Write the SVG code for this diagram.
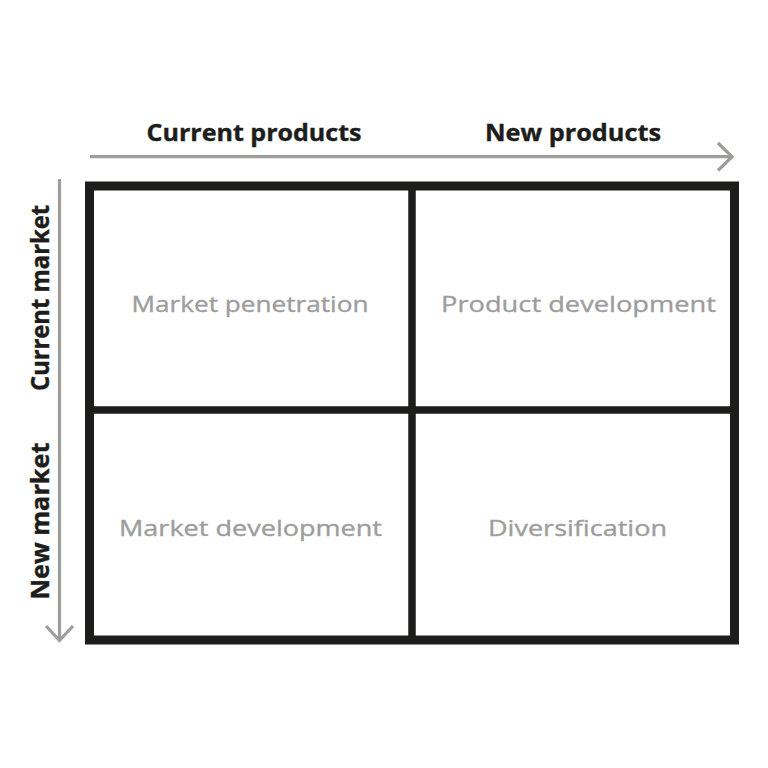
<svg xmlns="http://www.w3.org/2000/svg" width="768" height="768" viewBox="0 0 768 768">
<style>
.axis{font-family:"Open Sans","Liberation Sans",sans-serif;font-weight:700;font-size:24px;fill:#1d1d1b;stroke:#1d1d1b;stroke-width:0.4}
.vaxis{font-size:25px}
.cell{font-family:"Open Sans","Liberation Sans",sans-serif;font-weight:400;font-size:21.5px;fill:#9d9d9c;stroke:#9d9d9c;stroke-width:0.35}
.arr{stroke:#9d9d9c;stroke-width:3.2;fill:none;stroke-linecap:butt}
.grid{stroke:#1d1d1b;fill:none}
</style>
<rect width="768" height="768" fill="#ffffff"/>
<g id="connectors">
<line class="arr" x1="90" y1="156.7" x2="732" y2="156.7"/>
<polyline class="arr" points="718,143 732,156.7 718,170.5"/>
<line class="arr" x1="59.5" y1="179" x2="59.5" y2="641"/>
<polyline class="arr" points="46,626 59.5,640.5 73,626"/>
</g>
<g id="grid">
<rect class="grid" x="89.5" y="186" width="645" height="454" stroke-width="9"/>
<line class="grid" x1="412" y1="186" x2="412" y2="640" stroke-width="7.5"/>
<line class="grid" x1="89.5" y1="410" x2="734.5" y2="410" stroke-width="7.5"/>
</g>
<g id="label-current-products"><text class="axis" x="254" y="141" text-anchor="middle" textLength="215" lengthAdjust="spacingAndGlyphs">Current products</text></g>
<g id="label-new-products"><text class="axis" x="573" y="141" text-anchor="middle" textLength="176" lengthAdjust="spacingAndGlyphs">New products</text></g>
<g id="label-current-market"><text class="axis vaxis" transform="translate(48.5,298) rotate(-90)" x="0" y="0" text-anchor="middle" textLength="186" lengthAdjust="spacingAndGlyphs">Current market</text></g>
<g id="label-new-market"><text class="axis vaxis" transform="translate(48.5,521) rotate(-90)" x="0" y="0" text-anchor="middle" textLength="157" lengthAdjust="spacingAndGlyphs">New market</text></g>
<g id="cell-market-penetration"><text class="cell" x="250" y="312" text-anchor="middle" textLength="237" lengthAdjust="spacingAndGlyphs">Market penetration</text></g>
<g id="cell-product-development"><text class="cell" x="578.5" y="312" text-anchor="middle" textLength="275" lengthAdjust="spacingAndGlyphs">Product development</text></g>
<g id="cell-market-development"><text class="cell" x="250.5" y="536" text-anchor="middle" textLength="263" lengthAdjust="spacingAndGlyphs">Market development</text></g>
<g id="cell-diversification"><text class="cell" x="577.5" y="536" text-anchor="middle" textLength="179" lengthAdjust="spacingAndGlyphs">Diversification</text></g>
</svg>
